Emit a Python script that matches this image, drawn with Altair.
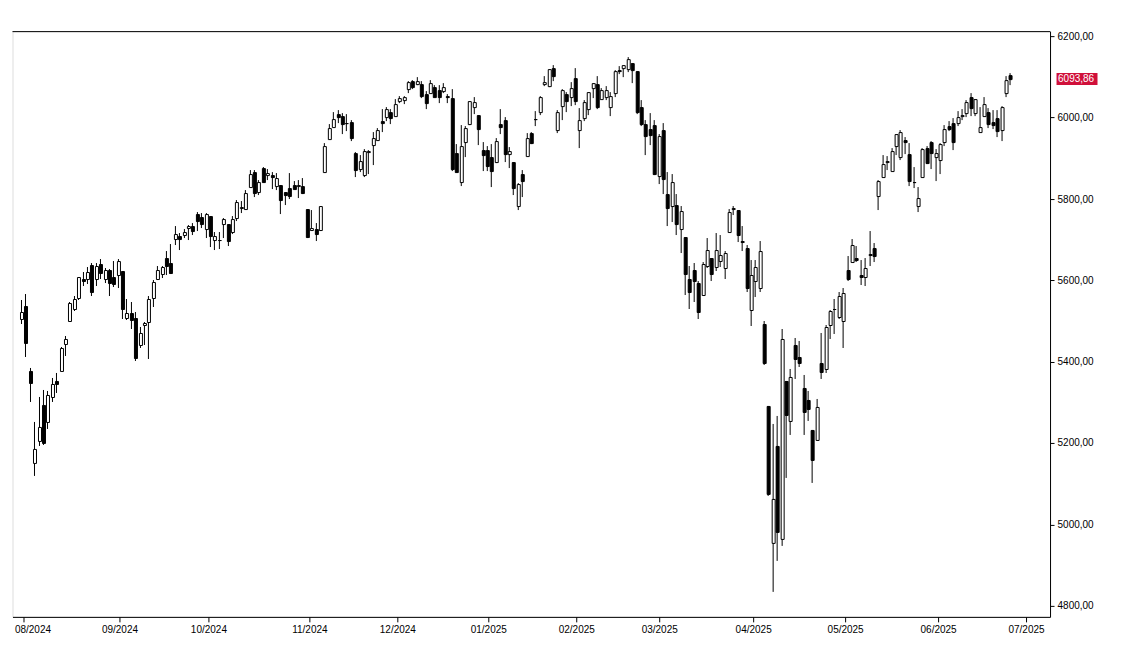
import altair as alt
import pandas as pd

# ---- trading days (month prefix + day numbers) ----
trading_days = [
    ("2024-07", [31]),
    ("2024-08", [1, 2, 5, 6, 7, 8, 9, 12, 13, 14, 15, 16, 19, 20, 21, 22, 23, 26, 27, 28, 29, 30]),
    ("2024-09", [3, 4, 5, 6, 9, 10, 11, 12, 13, 16, 17, 18, 19, 20, 23, 24, 25, 26, 27, 30]),
    ("2024-10", [1, 2, 3, 4, 7, 8, 9, 10, 11, 14, 15, 16, 17, 18, 21, 22, 23, 24, 25, 28, 29, 30, 31]),
    ("2024-11", [1, 4, 5, 6, 7, 8, 11, 12, 13, 14, 15, 18, 19, 20, 21, 22, 25, 26, 27, 29]),
    ("2024-12", [2, 3, 4, 5, 6, 9, 10, 11, 12, 13, 16, 17, 18, 19, 20, 23, 24, 26, 27, 30, 31]),
    ("2025-01", [2, 3, 6, 7, 8, 10, 13, 14, 15, 16, 17, 21, 22, 23, 24, 27, 28, 29, 30, 31]),
    ("2025-02", [3, 4, 5, 6, 7, 10, 11, 12, 13, 14, 18, 19, 20, 21, 24, 25, 26, 27, 28]),
    ("2025-03", [3, 4, 5, 6, 7, 10, 11, 12, 13, 14, 17, 18, 19, 20, 21, 24, 25, 26, 27, 28, 31]),
    ("2025-04", [1, 2, 3, 4, 7, 8, 9, 10, 11, 14, 15, 16, 17, 21, 22, 23, 24, 25, 28, 29, 30]),
    ("2025-05", [1, 2, 5, 6, 7, 8, 9, 12, 13, 14, 15, 16, 19, 20, 21, 22, 23, 27, 28, 29, 30]),
    ("2025-06", [2, 3, 4, 5, 6, 9, 10, 11, 12, 13, 16, 17, 18, 20, 23, 24, 25]),
]
dates = [f"{m}-{d:02d}" for m, ds in trading_days for d in ds]
# sessions after the last candle (empty space on the right of the chart)
future_sessions = ["2025-06-26", "2025-06-27", "2025-06-30", "2025-07-01", "2025-07-02"]

opens = [
    5505.59,
    5537.84, 5376.63, 5151.14, 5206.42, 5293.13, 5252.57, 5314.18, 5351.88, 5376.98, 5442.57, 5501.13,
    5530.50, 5557.23, 5602.88, 5603.09, 5637.77, 5602.89, 5639.66, 5602.89, 5624.51, 5607.30, 5612.74,
    5623.89, 5506.68, 5520.08, 5507.33, 5442.07, 5490.51, 5496.42, 5557.48, 5603.34, 5615.21, 5655.51,
    5641.68, 5702.63, 5709.58, 5711.90, 5727.56, 5733.65, 5762.22, 5755.36, 5726.52,
    5757.73, 5698.19, 5698.22, 5737.80, 5737.80, 5719.14, 5751.80, 5778.36, 5775.09, 5829.81, 5866.74,
    5816.58, 5875.62, 5859.43, 5857.82, 5832.70, 5834.50, 5817.80, 5826.75, 5833.93, 5832.52, 5832.65, 5775.34,
    5723.22, 5725.15, 5722.43, 5864.89, 5947.21, 5976.76, 6008.86, 6003.60, 5985.75, 5989.56, 5912.79,
    5874.17, 5857.94, 5914.30, 5932.13, 5944.36, 5992.28, 6000.03, 6014.11, 6003.98,
    6040.11, 6042.97, 6069.39, 6089.03, 6081.38, 6083.01, 6057.59, 6060.15, 6074.29, 6068.17, 6063.79,
    6052.55, 6047.65, 5912.71, 5842.00, 5940.25, 5984.63, 6024.97, 6006.17, 5920.67, 5919.74,
    5903.26, 5891.07, 5982.81, 5993.26, 5910.66, 5890.66, 5782.08, 5859.94, 5905.21, 5961.05, 5995.15,
    6014.12, 6081.39, 6076.32, 6121.43, 5969.04, 6026.97, 6057.70, 6050.75, 6096.79,
    5969.65, 5998.14, 6020.45, 6072.22, 6083.13, 6046.40, 6049.32, 6025.08, 6060.59, 6115.52, 6121.60,
    6117.76, 6134.50, 6114.10, 6026.69, 5982.73, 5970.87, 5981.88, 5856.74,
    5968.33, 5811.98, 5781.39, 5785.87, 5726.01, 5705.37, 5603.65, 5624.84, 5594.45, 5563.85, 5635.60,
    5654.53, 5632.37, 5646.92, 5630.73, 5718.08, 5775.91, 5771.66, 5695.64, 5679.96, 5527.91,
    5597.53, 5580.76, 5492.74, 5292.14, 4953.79, 5193.57, 4965.28, 5353.15, 5255.56, 5441.96, 5411.99,
    5335.75, 5305.45, 5232.94, 5207.67, 5395.93, 5381.38, 5489.69, 5529.22, 5508.87, 5499.44,
    5625.14, 5645.81, 5655.32, 5614.00, 5608.33, 5663.00, 5679.49, 5807.35, 5854.91, 5891.50, 5869.56,
    5929.09, 5902.88, 5944.66, 5910.52, 5841.26, 5781.89, 5854.07, 5925.54, 5939.92, 5903.67,
    5896.68, 5938.56, 5978.94, 5985.67, 5987.06, 6004.60, 6009.91, 6049.38, 6009.90, 5963.51, 6004.00,
    6012.15, 5987.93, 5999.67, 5969.67, 6061.21, 6104.20,
]
highs = [
    5551.51,
    5566.16, 5383.89, 5250.89, 5312.34, 5330.64, 5328.03, 5358.98, 5371.20, 5436.50, 5463.22, 5546.23,
    5561.98, 5608.30, 5620.51, 5632.68, 5643.22, 5641.82, 5651.62, 5631.18, 5627.03, 5646.95, 5651.37,
    5623.89, 5552.99, 5546.30, 5522.47, 5484.20, 5497.91, 5560.41, 5600.71, 5636.27, 5636.05, 5670.81,
    5689.75, 5733.57, 5715.14, 5725.36, 5735.32, 5741.03, 5767.37, 5764.76, 5765.14,
    5757.73, 5719.14, 5718.78, 5753.37, 5739.34, 5757.60, 5796.80, 5795.03, 5822.13, 5871.41, 5870.36,
    5846.52, 5878.46, 5872.17, 5866.92, 5863.04, 5834.85, 5817.80, 5862.82, 5842.92, 5847.19, 5850.94, 5775.34,
    5772.74, 5741.43, 5783.44, 5936.14, 5983.84, 6012.45, 6017.31, 6009.92, 6008.19, 5993.88, 5915.27,
    5908.12, 5923.14, 5920.67, 5963.79, 5972.90, 6020.75, 6025.42, 6020.16, 6044.17,
    6053.58, 6052.07, 6089.84, 6092.00, 6099.97, 6088.51, 6065.40, 6092.59, 6079.68, 6078.58, 6085.19,
    6057.68, 6070.67, 5935.52, 5982.06, 5978.25, 6040.10, 6049.75, 6006.17, 5940.79, 5929.74,
    5935.09, 5949.34, 6021.04, 6000.68, 5927.89, 5890.66, 5838.37, 5871.92, 5960.61, 5964.69, 6014.96,
    6051.51, 6100.81, 6118.73, 6128.18, 6017.17, 6069.08, 6062.83, 6086.64, 6120.91,
    6022.13, 6042.48, 6062.86, 6084.03, 6101.28, 6073.38, 6076.28, 6063.09, 6116.91, 6127.47, 6129.63,
    6147.43, 6134.50, 6114.82, 6043.65, 5992.65, 6009.82, 5993.69, 5959.40,
    5986.09, 5865.08, 5860.59, 5812.08, 5783.01, 5705.37, 5636.30, 5642.19, 5597.78, 5645.27, 5703.52,
    5654.53, 5715.33, 5711.15, 5670.84, 5775.14, 5783.31, 5773.18, 5732.28, 5685.89, 5650.57,
    5650.83, 5695.31, 5499.53, 5292.14, 5246.57, 5267.47, 5481.34, 5353.15, 5381.46, 5459.46, 5450.41,
    5367.24, 5328.31, 5232.94, 5309.60, 5469.69, 5489.40, 5528.11, 5553.66, 5571.95, 5581.84,
    5658.91, 5700.70, 5683.52, 5649.37, 5653.67, 5720.10, 5691.69, 5845.69, 5906.63, 5906.00, 5924.33,
    5958.62, 5968.61, 5953.06, 5938.37, 5878.08, 5829.51, 5924.20, 5929.00, 5943.13, 5922.14,
    5937.40, 5981.35, 5990.48, 5999.70, 6016.87, 6021.31, 6043.01, 6059.40, 6045.43, 6026.16, 6050.83,
    6023.25, 6018.25, 6018.20, 6028.81, 6101.80, 6108.51,
]
lows = [
    5493.75,
    5410.42, 5302.03, 5119.26, 5193.56, 5195.54, 5233.85, 5301.65, 5324.37, 5376.98, 5415.07, 5501.13,
    5525.17, 5550.74, 5585.50, 5591.57, 5560.95, 5585.16, 5602.34, 5593.48, 5560.95, 5583.71, 5581.79,
    5504.33, 5503.66, 5480.46, 5402.62, 5434.49, 5441.72, 5406.96, 5535.50, 5601.65, 5604.53, 5614.05,
    5615.08, 5686.42, 5674.49, 5704.22, 5698.99, 5712.06, 5721.01, 5727.77, 5703.53,
    5681.28, 5674.00, 5677.37, 5702.79, 5683.25, 5714.56, 5745.02, 5764.76, 5775.09, 5829.81, 5804.48,
    5808.34, 5840.25, 5846.11, 5824.81, 5821.17, 5762.41, 5784.92, 5799.98, 5823.08, 5802.39, 5811.28, 5702.86,
    5723.22, 5696.51, 5722.10, 5864.89, 5947.21, 5976.76, 5986.69, 5960.08, 5965.91, 5942.28, 5853.01,
    5865.95, 5853.60, 5860.58, 5883.52, 5944.36, 5963.91, 5992.27, 5984.87, 6003.98,
    6035.33, 6033.39, 6061.06, 6070.98, 6079.98, 6048.63, 6020.75, 6060.15, 6051.25, 6035.77, 6059.14,
    6035.19, 5867.79, 5866.07, 5832.30, 5902.57, 5981.44, 6007.37, 5932.95, 5869.16, 5868.86,
    5829.53, 5888.66, 5960.01, 5890.68, 5874.78, 5809.22, 5773.31, 5805.61, 5905.21, 5935.30, 5978.44,
    6006.88, 6076.13, 6074.67, 6088.74, 5962.92, 5994.46, 6012.96, 6027.46, 6030.93,
    5923.93, 5990.87, 6007.06, 6046.83, 6019.96, 6044.84, 6042.34, 6003.00, 6051.00, 6107.62, 6099.51,
    6111.15, 6084.59, 6008.56, 5977.83, 5908.49, 5932.69, 5858.78, 5837.66,
    5810.91, 5732.59, 5742.35, 5711.64, 5666.29, 5564.02, 5528.41, 5546.09, 5504.65, 5563.85, 5631.12,
    5597.76, 5622.20, 5632.33, 5603.10, 5718.08, 5759.63, 5694.41, 5670.94, 5572.42, 5488.73,
    5558.52, 5571.48, 5390.83, 5069.90, 4835.04, 4910.42, 4948.43, 5115.27, 5220.77, 5358.02, 5386.44,
    5220.79, 5255.58, 5101.63, 5207.67, 5356.56, 5371.96, 5455.86, 5468.64, 5505.70, 5433.24,
    5597.35, 5644.48, 5646.05, 5589.08, 5586.58, 5635.21, 5644.91, 5773.31, 5853.19, 5871.41, 5867.44,
    5907.36, 5895.69, 5909.26, 5830.91, 5825.82, 5767.41, 5854.07, 5886.81, 5873.80, 5843.66,
    5861.43, 5929.00, 5966.11, 5921.20, 5978.63, 5994.18, 6000.25, 6002.32, 6003.88, 5963.21, 6004.00,
    5974.80, 5971.89, 5952.56, 5943.23, 6050.33, 6080.47,
]
closes = [
    5522.30,
    5446.68, 5346.56, 5186.33, 5240.03, 5199.50, 5319.31, 5344.16, 5344.39, 5434.43, 5455.21, 5543.22,
    5554.25, 5608.25, 5597.12, 5620.85, 5570.64, 5634.61, 5616.84, 5625.80, 5592.18, 5591.96, 5648.40,
    5528.93, 5520.07, 5503.41, 5408.42, 5471.05, 5495.52, 5554.13, 5595.76, 5626.02, 5633.09, 5634.58,
    5618.26, 5713.64, 5702.55, 5718.57, 5732.93, 5722.26, 5745.37, 5738.17, 5762.48,
    5708.75, 5709.54, 5699.94, 5751.07, 5695.94, 5751.13, 5792.04, 5780.05, 5815.03, 5859.85, 5815.26,
    5842.47, 5841.47, 5864.67, 5853.98, 5851.20, 5797.42, 5809.86, 5808.12, 5823.52, 5832.92, 5813.67, 5705.45,
    5728.80, 5712.69, 5782.76, 5929.04, 5973.10, 5995.54, 6001.35, 5983.99, 5985.38, 5949.17, 5870.62,
    5893.62, 5916.98, 5917.11, 5948.71, 5969.34, 5987.37, 6021.63, 5998.74, 6032.38,
    6047.15, 6049.88, 6086.49, 6075.11, 6090.27, 6052.85, 6034.91, 6084.19, 6051.25, 6051.09, 6074.08,
    6050.61, 5872.16, 5867.08, 5930.85, 5974.07, 6040.04, 6037.59, 5970.84, 5906.94, 5881.63,
    5868.55, 5942.47, 5975.38, 5909.03, 5918.25, 5827.04, 5836.22, 5842.91, 5949.91, 5937.34, 5996.66,
    6049.24, 6086.37, 6118.71, 6101.24, 6012.28, 6067.70, 6039.31, 6071.17, 6040.53,
    5994.57, 6037.88, 6061.48, 6083.57, 6025.99, 6066.44, 6068.50, 6051.97, 6115.07, 6114.63, 6129.58,
    6144.15, 6117.52, 6013.13, 5983.25, 5955.25, 5956.06, 5861.57, 5954.50,
    5849.72, 5778.15, 5842.63, 5738.52, 5770.20, 5614.56, 5572.07, 5599.30, 5521.52, 5638.94, 5675.12,
    5614.66, 5675.29, 5662.89, 5667.56, 5767.57, 5776.65, 5712.20, 5693.31, 5580.94, 5611.85,
    5633.07, 5670.97, 5396.52, 5074.08, 5062.25, 4982.77, 5456.90, 5268.05, 5363.36, 5405.97, 5396.63,
    5275.70, 5282.70, 5158.20, 5287.76, 5375.86, 5484.77, 5525.21, 5528.75, 5560.83, 5569.06,
    5604.14, 5686.67, 5650.38, 5606.91, 5631.28, 5663.94, 5659.91, 5844.19, 5886.55, 5892.58, 5916.93,
    5958.38, 5963.60, 5940.46, 5844.61, 5842.01, 5802.82, 5921.54, 5888.55, 5912.17, 5911.69,
    5935.94, 5970.37, 5970.81, 5939.30, 6000.36, 6005.88, 6038.81, 6022.24, 6045.26, 5976.97, 6033.11,
    5982.72, 5980.87, 5967.84, 6025.17, 6092.18, 6093.86,
]
assert len(dates) == len(opens) == len(highs) == len(lows) == len(closes)

month_starts = ["2024-08-01", "2024-09-01", "2024-10-01", "2024-11-01", "2024-12-01", "2025-01-01",
                "2025-02-01", "2025-03-01", "2025-04-01", "2025-05-01", "2025-06-01", "2025-07-01"]
month_labels = ["08/2024", "09/2024", "10/2024", "11/2024", "12/2024", "01/2025",
                "02/2025", "03/2025", "04/2025", "05/2025", "06/2025", "07/2025"]
price_ticks = [4800, 5000, 5200, 5400, 5600, 5800, 6000, 6200]
last_price = closes[-1]

# place each month tick at midnight of the 1st, between the surrounding sessions (session = noon)
sessions = [pd.Timestamp(d) + pd.Timedelta(hours=12) for d in dates + future_sessions]


def tick_pos(month_start):
    m = pd.Timestamp(month_start)
    p = max(k for k, s in enumerate(sessions) if s < m)
    frac = (m - sessions[p]) / (sessions[p + 1] - sessions[p])
    return round(p + frac, 4)


tick_idx = [tick_pos(m) for m in month_starts]

df = pd.DataFrame({"i": list(range(len(dates))), "date": dates, "open": opens,
                   "high": highs, "low": lows, "close": closes})

FONT = "Liberation Sans"
W, H = 1038, 586

xscale = alt.Scale(domain=[-0.9, 232.88], nice=False, zero=False, round=True)
yscale = alt.Scale(domain=[4773, 6212.3], nice=False, zero=False, round=True)

lbl_arr = "[" + ",".join(f"'{s}'" for s in month_labels) + "]"
idx_arr = "[" + ",".join(str(v) for v in tick_idx) + "]"
xaxis = alt.Axis(values=tick_idx, labelExpr=f"{lbl_arr}[indexof({idx_arr}, datum.value)]",
                 title=None, grid=False, tickSize=5, labelPadding=3, labelFontSize=10,
                 labelColor="black", tickColor="black", domainColor="black", labelFont=FONT,
                 labelFlush=False, labelOverlap=False, tickRound=True,
                 labelOffset={"condition": {"test": f"datum.value < {tick_idx[0] + 0.1}", "value": 9},
                              "value": 0})
yaxis = alt.Axis(orient="right", values=price_ticks,
                 labelExpr="replace(format(datum.value, '.2f'), '.', ',')",
                 title=None, grid=False, tickSize=4, labelPadding=3, labelFontSize=10,
                 labelColor="black", tickColor="black", domainColor="black", labelFont=FONT,
                 labelOverlap=False)

base = alt.Chart(df)

wicks = base.mark_rule(color="black", strokeWidth=1).encode(
    x=alt.X("i:Q", scale=xscale, axis=xaxis),
    y=alt.Y("low:Q", scale=yscale, axis=yaxis),
    y2="high:Q",
)

bodies = base.mark_bar(width=3, stroke="black", strokeWidth=1, xOffset=0.5,
                       yOffset=0.5, y2Offset=0.5).encode(
    x=alt.X("i:Q", scale=xscale),
    y=alt.Y("open:Q", scale=yscale),
    y2="close:Q",
    fill=alt.condition("datum.close >= datum.open", alt.value("white"), alt.value("black")),
)

# plot frame (top edge) drawn explicitly
frame_top = alt.Chart(pd.DataFrame({"k": [0]})).mark_rule(color="black", strokeWidth=1).encode(
    x=alt.value(0), x2=alt.value(W), y=alt.value(0.5),
)

label_df = pd.DataFrame({"v": [last_price], "v2": [last_price],
                         "txt": [f"{last_price:.2f}".replace(".", ",")]})
tag_box = alt.Chart(label_df).mark_rect(color="#d0103a", yOffset=-6, y2Offset=6).encode(
    x=alt.value(W + 6.5), x2=alt.value(W + 47.5),
    y=alt.Y("v:Q", scale=yscale), y2="v2:Q",
)
tag_text = alt.Chart(label_df).mark_text(color="white", align="left", baseline="middle",
                                         fontSize=10, font=FONT).encode(
    x=alt.value(W + 8), y=alt.Y("v:Q", scale=yscale), text="txt:N",
)

chart = alt.layer(wicks, bodies, frame_top, tag_box, tag_text).properties(
    width=W, height=H, autosize="none",
    padding={"left": 4.5, "top": 23, "right": 70, "bottom": 40},
    background="white",
).configure_view(stroke="black", strokeWidth=1).configure(font=FONT)

chart.save("out.html", embed_options={"renderer": "svg", "actions": False})
